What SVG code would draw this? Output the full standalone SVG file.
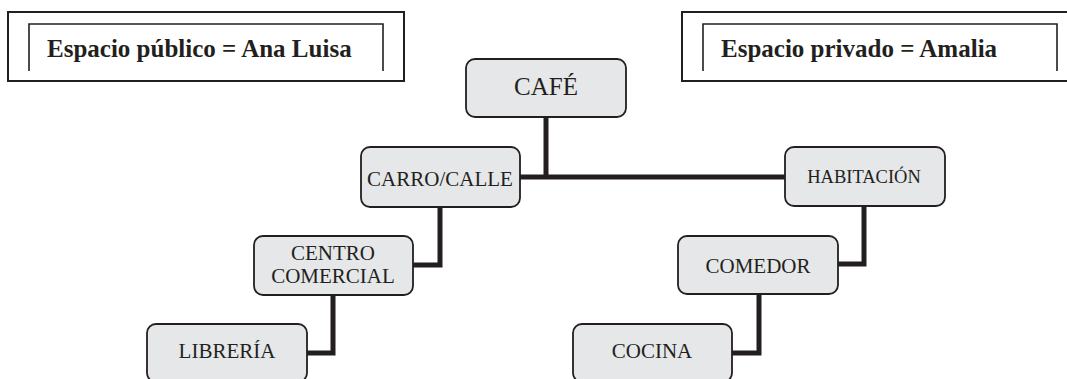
<svg xmlns="http://www.w3.org/2000/svg" width="1067" height="379" viewBox="0 0 1067 379">
<style>
.frame{fill:none;stroke:#231f20;stroke-width:2}
.inner{fill:none;stroke:#231f20;stroke-width:1.6}
.head{font-family:"Liberation Serif",serif;font-weight:bold;font-size:25px;fill:#231f20}
.box{fill:#e6e7e8;stroke:#231f20;stroke-width:1.8}
.lbl{font-family:"Liberation Serif",serif;font-size:21px;fill:#231f20;text-anchor:middle}
.con{fill:none;stroke:#231f20;stroke-width:5;stroke-linejoin:miter}
</style>
<rect width="1067" height="379" fill="#ffffff"/>
<g id="legend-publico">
<rect class="frame" x="8" y="12" width="396" height="69"/>
<path class="inner" d="M29,71 V24 H383 V71"/>
<text class="head" x="47" y="57">Espacio público = Ana Luisa</text>
</g>
<g id="legend-privado">
<path class="frame" d="M1070,12 H682 V81 H1070"/>
<path class="inner" d="M703,71 V24 H1057 V71"/>
<text class="head" x="721" y="57">Espacio privado = Amalia</text>
</g>
<g id="connectors">
<path class="con" d="M546,118 V177"/>
<path class="con" d="M520,177 H785"/>
<path class="con" d="M440,207 V265 H413"/>
<path class="con" d="M333,295 V353 H307"/>
<path class="con" d="M864,206 V264 H838"/>
<path class="con" d="M759,294 V353 H732"/>
</g>
<g id="cafe">
<rect class="box" x="466" y="59" width="160" height="58" rx="9"/>
<text class="lbl" x="546" y="95" style="font-size:25px">CAFÉ</text>
</g>
<g id="carro-calle">
<rect class="box" x="361" y="147" width="159" height="60" rx="9"/>
<text class="lbl" x="440" y="186">CARRO/CALLE</text>
</g>
<g id="habitacion">
<rect class="box" x="785" y="147" width="160" height="59" rx="9"/>
<text class="lbl" x="864" y="183" style="font-size:18.5px">HABITACIÓN</text>
</g>
<g id="centro-comercial">
<rect class="box" x="254" y="236" width="159" height="59" rx="9"/>
<text class="lbl" x="333" y="260">CENTRO</text>
<text class="lbl" x="333" y="283">COMERCIAL</text>
</g>
<g id="comedor">
<rect class="box" x="678" y="236" width="160" height="58" rx="9"/>
<text class="lbl" x="758" y="273">COMEDOR</text>
</g>
<g id="libreria">
<rect class="box" x="147" y="324" width="160" height="58" rx="9"/>
<text class="lbl" x="227" y="358">LIBRERÍA</text>
</g>
<g id="cocina">
<rect class="box" x="573" y="324" width="159" height="58" rx="9"/>
<text class="lbl" x="652" y="358">COCINA</text>
</g>
</svg>
